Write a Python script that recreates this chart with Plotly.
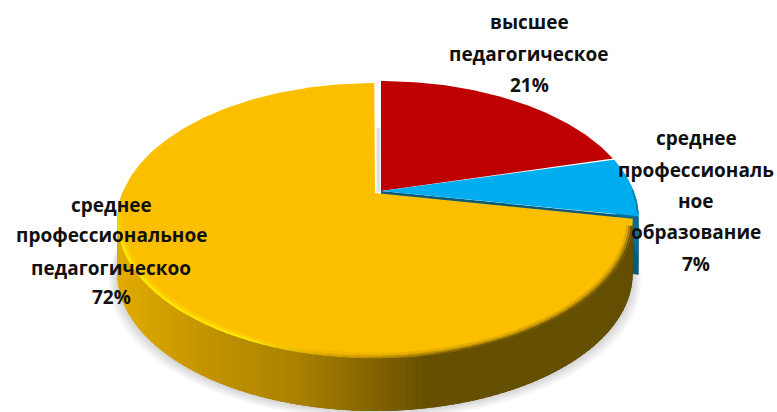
import numpy as np
import plotly.graph_objects as go

categories = ["высшее педагогическое", "среднее профессиональное образование", "среднее профессиональное педагогическоо"]
values = [21, 7, 72]
label_lines = [["высшее", "педагогическое"],
               ["среднее", "профессиональ", "ное", "образование"],
               ["среднее", "профессиональное", "педагогическоо"]]
colors = ["#BF0000", "#00AEEF", "#FCBF00"]

W, H = 777, 412
A, B, K = 252.5, 132.0, 0.2   # projected disc
DEPTH = 53
centres = [(381, 191), (381, 191), (375, 193)]
label_y = [[22, 54, 85], [138, 170, 201, 232, 264], [205, 235, 268, 297]]
label_x = [529, 696, 111]

fracs = np.cumsum([0] + values) / sum(values)
fig = go.Figure()


def pt(deg, c, r=1.0):
    t = np.radians(deg)
    u, v = r * np.sin(t), r * np.cos(t)
    w = 1 + K * v
    return c[0] + A * u / w, c[1] - B * v / w


def poly(x, y, fill):
    fig.add_trace(go.Scatter(x=list(x), y=list(y), mode="lines", fill="toself", fillcolor=fill,
                             line=dict(color=fill, width=0), hoverinfo="skip", showlegend=False))


def seg(x, y, col, lw):
    fig.add_trace(go.Scatter(x=list(x), y=list(y), mode="lines", line=dict(color=col, width=lw),
                             hoverinfo="skip", showlegend=False))


def lerp(stops, p):
    xs = [s[0] for s in stops]
    rgb = [np.interp(p, xs, [s[1][i] for s in stops]) for i in range(3)]
    return "rgb(%d,%d,%d)" % tuple(int(round(v)) for v in rgb)


side_stops = [(117, (226, 172, 0)), (200, (198, 150, 0)), (300, (170, 129, 0)), (380, (130, 98, 0)),
              (430, (102, 80, 0)), (640, (100, 78, 0))]

a0, a1, a2 = [f * 360 for f in fracs[:3]]
c_red, c_blue, c_yel = centres

# soft shadow below the disc
arc = np.arange(95, 275, 2.0)
for s in range(1, 6)[::-1]:
    px, py = pt(arc, c_yel)
    poly(c_yel[0] + (px - c_yel[0]) * (1 + s * 0.0065), py + DEPTH + s * 1.7, "rgba(0,0,0,0.032)")

# sliver of shade in the gap
seg([378.5, 378.5], [128, 192], "#E2E2E2", 4)

# blue: cut face and rim
bx, by = pt(a2, c_blue)
poly([c_blue[0], bx, bx, c_blue[0]], [c_blue[1], by, by + DEPTH + 5, c_blue[1] + DEPTH], "#0B5A78")
arc = np.arange(a1, a2 + 0.1, 2.0)
px, py = pt(arc, c_blue)
poly(list(px) + list(px[::-1]), list(py) + list(py[::-1] + DEPTH), "#0B6A8E")

# yellow side wall, painted so each band overlaps the next
arc = np.arange(a2, 270.1, 1.5)
for d0 in arc:
    d = np.array([d0, min(d0 + 4.0, 272.0)])
    px, py = pt(d, c_yel)
    col = lerp(side_stops, float(px[0]))
    poly([px[0], px[1], px[1], px[0]], [py[0], py[1], py[1] + DEPTH, py[0] + DEPTH], col)

# top faces
for i, c in enumerate(centres):
    arc = np.arange(fracs[i] * 360, fracs[i + 1] * 360 + 0.01, 1.0)
    px, py = pt(arc, c)
    poly([c[0]] + list(px) + [c[0]], [c[1]] + list(py) + [c[1]], colors[i])

# blue edge bevel
arc = np.arange(a1 + 14, a2 + 0.1, 2.0)
px, py = pt(arc, c_blue, 0.997)
seg(px, py, "#0A86B4", 2)

# yellow rim bevel: soft band, dark on the right and bright on the lower left
dark = (112, 86, 0)
base = (252, 191, 0)
bright = (255, 232, 0)
rim_layers = [(0.996, 0.0), (0.988, 0.45), (0.980, 0.8)]
arc = np.arange(a2 + 3, 266, 2.5)
for d0 in arc:
    p = (d0 - a2) / (266 - a2)
    d = np.array([d0, d0 + 3.0])
    tone = float(np.interp(p, [0, 0.36, 0.52, 0.62, 0.88, 1.0], [0, 0, 0.5, 1, 1, 0.75]))
    for r, mix in rim_layers:
        outer = lerp([(0, dark), (0.5, (214, 160, 0)), (1, bright)], tone)
        c_outer = [int(outer[4:-1].split(",")[k]) for k in range(3)]
        col = tuple(c_outer[k] + (base[k] - c_outer[k]) * mix for k in range(3))
        x1, y1 = pt(d, c_yel, r)
        seg(x1, y1, "rgb(%d,%d,%d)" % col, 2.4)

# labels
annotations = []
for lines, v, ys, x in zip(label_lines, values, label_y, label_x):
    for text, y in zip(lines + [f"{v}%"], ys):
        annotations.append(dict(x=x, y=y, xref="x", yref="y", text=text, showarrow=False,
                                xanchor="center", yanchor="middle",
                                font=dict(family="Open Sans", size=19, color="#111111", weight="bold")))

fig.update_layout(width=W, height=H, margin=dict(l=0, r=0, t=0, b=0), autosize=False,
                  paper_bgcolor="white", plot_bgcolor="white", showlegend=False,
                  xaxis=dict(range=[0, W], visible=False, fixedrange=True),
                  yaxis=dict(range=[H, 0], visible=False, fixedrange=True),
                  annotations=annotations)
fig.write_html("out.html", config=dict(displayModeBar=False),
               post_script="document.body.style.margin='0';document.documentElement.style.overflow='hidden';")
